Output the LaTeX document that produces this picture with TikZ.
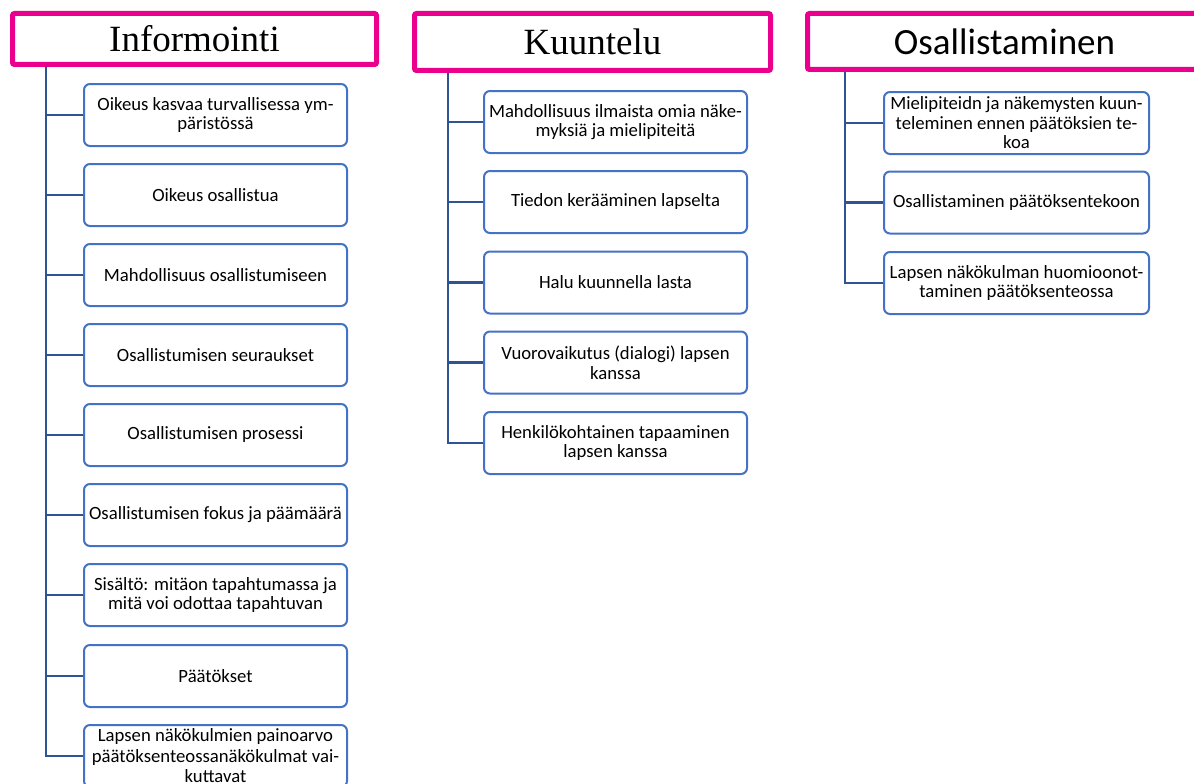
\documentclass[tikz,border=0pt]{standalone}
\usepackage{fontspec}
\setmainfont{Carlito}
\newfontfamily\timesf{Liberation Serif}
\definecolor{pinkc}{RGB}{234,0,140}
\definecolor{boxc}{RGB}{68,114,196}
\definecolor{linec}{RGB}{47,84,150}
\tikzset{
  hdr/.style={draw=pinkc, line width=5pt, rounded corners=2pt, fill=white, inner sep=0pt, align=center},
  itembox/.style={draw=boxc, line width=2pt, rounded corners=6pt, fill=white, minimum width=263pt, minimum height=62pt, inner sep=2pt, align=center, font=\fontsize{18.7}{19.5}\selectfont},
  conn/.style={draw=linec, line width=2.8pt}
}
\begin{document}
\begin{tikzpicture}[x=1pt,y=-1pt]
\useasboundingbox (0,0) rectangle (1194,784);
% headers
\node[hdr, minimum width=364pt, minimum height=51pt, font=\timesf\fontsize{37}{40}\selectfont] (h1) at (194.5,39) {Informointi};
\node[hdr, minimum width=356pt, minimum height=57pt, font=\timesf\fontsize{37}{40}\selectfont] (h2) at (592.5,42) {Kuuntelu};
\node[hdr, minimum width=394pt, minimum height=56pt, font=\fontsize{37}{40}\selectfont] (h3) at (1004.5,41.5) {Osallistaminen};
\coordinate (t1) at (46,67);
\coordinate (t2) at (448,73);
\coordinate (t3) at (845,72);
% column 1
\node[itembox] (a1) at (215.5,115) {Oikeus kasvaa turvallisessa ym-\\päristössä};
\node[itembox] (a2) at (215.5,195) {Oikeus osallistua};
\node[itembox] (a3) at (215.5,275) {Mahdollisuus osallistumiseen};
\node[itembox] (a4) at (215.5,355) {Osallistumisen seuraukset};
\node[itembox] (a5) at (215.5,435) {Osallistumisen prosessi};
\node[itembox] (a6) at (215.5,515) {Osallistumisen fokus ja päämäärä};
\node[itembox] (a7) at (215.5,595) {Sisältö: mitäon tapahtumassa ja\\mitä voi odottaa tapahtuvan};
\node[itembox] (a8) at (215.5,676) {Päätökset};
\node[itembox, font=\fontsize{18.7}{20.5}\selectfont] (a9) at (215.5,756) {Lapsen näkökulmien painoarvo\\päätöksenteossanäkökulmat vai-\\kuttavat};
% column 2
\node[itembox] (b1) at (615.5,122) {Mahdollisuus ilmaista omia näke-\\myksiä ja mielipiteitä};
\node[itembox] (b2) at (615.5,202) {Tiedon kerääminen lapselta};
\node[itembox] (b3) at (615.5,282.5) {Halu kuunnella lasta};
\node[itembox] (b4) at (615.5,362.5) {Vuorovaikutus (dialogi) lapsen\\kanssa};
\node[itembox] (b5) at (615.5,443) {Henkilökohtainen tapaaminen\\lapsen kanssa};
% column 3
\node[itembox, minimum width=265pt] (c1) at (1016.5,123) {Mielipiteidn ja näkemysten kuun-\\teleminen ennen päätöksien te-\\koa};
\node[itembox, minimum width=265pt] (c2) at (1016.5,202.5) {Osallistaminen päätöksentekoon};
\node[itembox, minimum width=265pt] (c3) at (1016.5,283) {Lapsen näkökulman huomioonot-\\taminen päätöksenteossa};
% connectors
\foreach \n in {a1,a2,a3,a4,a5,a6,a7,a8,a9} \draw[conn] (t1) |- (\n.west);
\foreach \n in {b1,b2,b3,b4,b5} \draw[conn] (t2) |- (\n.west);
\foreach \n in {c1,c2,c3} \draw[conn] (t3) |- (\n.west);
\end{tikzpicture}
\end{document}
